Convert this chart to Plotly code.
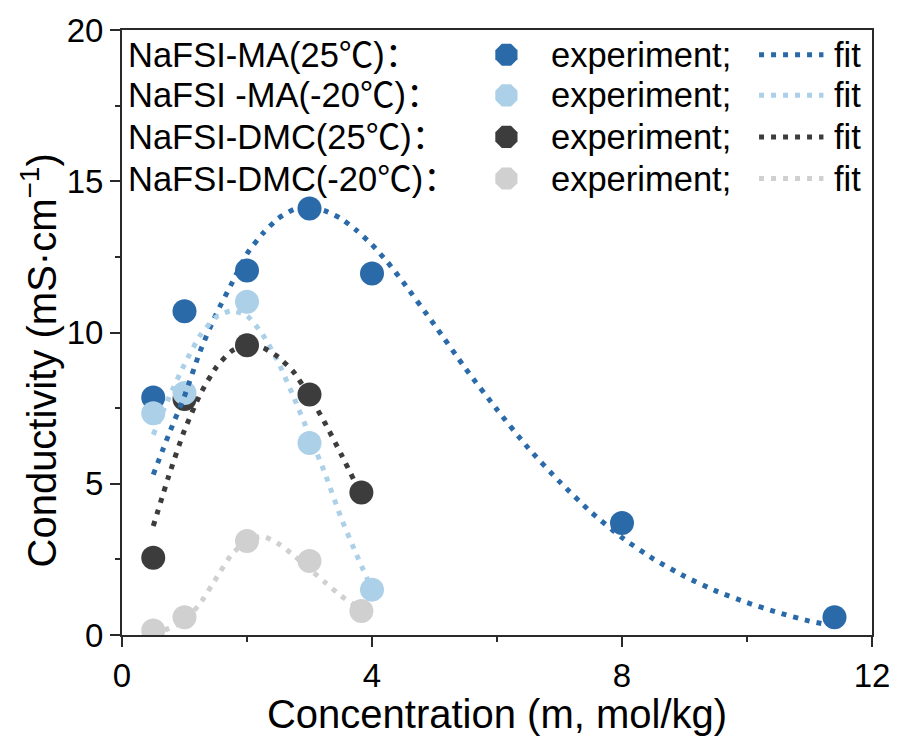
import plotly.graph_objects as go

# ---------------- data ----------------
labels = ["NaFSI-MA(25℃)：", "NaFSI -MA(-20℃)：", "NaFSI-DMC(25℃)：", "NaFSI-DMC(-20℃)："]
colors = ["#2b6aa9", "#abd0e8", "#3c3c3c", "#d0d0d0"]

ma25_x = [0.5, 1, 2, 3, 4, 8, 11.4]
ma25_y = [7.85, 10.7, 12.05, 14.1, 11.95, 3.7, 0.59]
ma20_x = [0.5, 1, 2, 3, 4]
ma20_y = [7.33, 8.0, 11.02, 6.35, 1.5]
dmc25_x = [0.5, 1, 2, 3, 3.83]
dmc25_y = [2.55, 7.8, 9.58, 7.95, 4.71]
dmc20_x = [0.5, 1, 2, 3, 3.83]
dmc20_y = [0.15, 0.59, 3.11, 2.45, 0.79]

ma25_fit_x = [0.5, 0.75, 1.0, 1.25, 1.5, 1.75, 2.0, 2.25, 2.5, 2.75, 3.0, 3.25, 3.5, 3.75,
              4.0, 4.25, 4.5, 5.0, 5.5, 6.0, 6.5, 7.0, 7.5, 8.0, 8.5, 9.0, 9.5, 10.0, 10.5, 11.0, 11.3]
ma25_fit_y = [5.3, 6.64, 7.9, 9.38, 10.58, 11.6, 12.6, 13.27, 13.77, 14.07, 14.14, 14.02, 13.77, 13.38,
              12.9, 12.32, 11.66, 10.25, 8.8, 7.45, 6.18, 5.07, 4.07, 3.22, 2.52, 1.94, 1.46, 1.07, 0.74, 0.46, 0.34]
ma20_fit_x = [0.5, 0.75, 1.0, 1.25, 1.5, 1.75, 2.0, 2.25, 2.5, 2.75, 3.0, 3.25, 3.5, 3.75, 4.0]
ma20_fit_y = [6.62, 7.85, 8.95, 9.9, 10.5, 10.72, 10.55, 9.93, 9.02, 7.85, 6.6, 5.33, 3.9, 2.67, 1.5]
dmc25_fit_x = [0.5, 0.75, 1.0, 1.25, 1.5, 1.75, 2.0, 2.25, 2.5, 2.75, 3.0, 3.25, 3.5, 3.8]
dmc25_fit_y = [3.6, 5.27, 6.77, 7.95, 8.83, 9.38, 9.6, 9.5, 9.19, 8.68, 7.9, 7.0, 6.0, 4.75]
dmc20_fit_x = [0.5, 0.75, 1.0, 1.25, 1.5, 1.75, 2.0, 2.25, 2.5, 2.75, 3.0, 3.25, 3.5, 3.8]
dmc20_fit_y = [0.05, 0.22, 0.47, 1.05, 1.85, 2.65, 3.12, 3.26, 3.02, 2.63, 2.18, 1.74, 1.3, 0.88]

x_ticks = [0, 4, 8, 12]
y_ticks = [0, 5, 10, 15, 20]
x_title = "Concentration (m, mol/kg)"
y_title = "Conductivity (mS·cm<sup>−1</sup>)"

# ---------------- layout constants ----------------
W, H = 902, 736
L, R, T, B = 122, 23, 24, 101
PW, PH = W - L - R, H - T - B
FONT = "Liberation Sans, Arial, Noto Sans CJK SC, sans-serif"
AX = "#2a2a2a"
DASH = "5px,7px"
LEG_SIZE = 34.5

def fx(px):
    return (px - L) / PW

def fy(py):
    return (H - B - py) / PH

fig = go.Figure()

exp_sets = [(ma25_x, ma25_y, 0), (ma20_x, ma20_y, 1), (dmc25_x, dmc25_y, 2), (dmc20_x, dmc20_y, 3)]
# marker drawing order: DMC(-20), DMC(25), MA(25), MA(-20)
for idx in [3, 2, 0, 1]:
    xs, ys, ci = exp_sets[idx]
    fig.add_trace(go.Scatter(x=xs, y=ys, mode="markers",
                             marker=dict(symbol="circle", size=24, color=colors[ci], line=dict(width=0)),
                             showlegend=False, hoverinfo="skip"))

fit_sets = [(ma25_fit_x, ma25_fit_y, 0), (ma20_fit_x, ma20_fit_y, 1),
            (dmc25_fit_x, dmc25_fit_y, 2), (dmc20_fit_x, dmc20_fit_y, 3)]
for xs, ys, ci in fit_sets:
    fig.add_trace(go.Scatter(x=xs, y=ys, mode="lines",
                             line=dict(color=colors[ci], width=5, dash=DASH, shape="spline", smoothing=0.6),
                             showlegend=False, hoverinfo="skip"))

# ---------------- custom legend (overlay axes in plot fractions) ----------------
rows_py = [49, 90, 132, 174]
for i, py in enumerate(rows_py):
    fig.add_trace(go.Scatter(x=[fx(510)], y=[fy(py)], xaxis="x2", yaxis="y2", mode="markers",
                             marker=dict(symbol="octagon", size=24, color=colors[i], line=dict(width=0)),
                             showlegend=False, hoverinfo="skip"))
    fig.add_trace(go.Scatter(x=[fx(765), fx(830)], y=[fy(py), fy(py)], xaxis="x2", yaxis="y2", mode="lines",
                             line=dict(color=colors[i], width=5, dash=DASH),
                             showlegend=False, hoverinfo="skip"))
    fig.add_annotation(x=fx(126), y=fy(py), xref="paper", yref="paper", text=labels[i], showarrow=False,
                       xanchor="left", yanchor="middle", font=dict(family=FONT, size=LEG_SIZE, color="black"))
    fig.add_annotation(x=fx(553), y=fy(py), xref="paper", yref="paper", text="experiment;", showarrow=False,
                       xanchor="left", yanchor="middle", font=dict(family=FONT, size=LEG_SIZE, color="black"))
    fig.add_annotation(x=fx(839), y=fy(py), xref="paper", yref="paper", text="fit", showarrow=False,
                       xanchor="left", yanchor="middle", font=dict(family=FONT, size=LEG_SIZE, color="black"))

# y-axis title as rotated annotation (positioned like the reference)
fig.add_annotation(x=fx(38), y=fy(358), xref="paper", yref="paper", text=y_title, showarrow=False,
                   textangle=-90, xanchor="center", yanchor="middle",
                   font=dict(family=FONT, size=40, color="black"))

fig.update_layout(
    width=W, height=H,
    margin=dict(l=L, r=R, t=T, b=B, pad=0),
    paper_bgcolor="white", plot_bgcolor="white",
    font=dict(family=FONT, size=32, color="black"),
    xaxis=dict(range=[0, 12], tickvals=x_ticks, ticks="outside", ticklen=10, tickwidth=2, tickcolor=AX,
               showline=True, linecolor=AX, linewidth=2, mirror=True, showgrid=False, zeroline=False,
               minor=dict(dtick=2, ticks="outside", ticklen=5, tickwidth=2, tickcolor=AX, showgrid=False),
               tickfont=dict(size=33), title=dict(text=x_title, font=dict(size=40), standoff=2)),
    yaxis=dict(range=[0, 20], tickvals=y_ticks, ticks="outside", ticklen=10, tickwidth=2, tickcolor=AX,
               showline=True, linecolor=AX, linewidth=2, mirror=True, showgrid=False, zeroline=False,
               minor=dict(dtick=2.5, ticks="outside", ticklen=5, tickwidth=2, tickcolor=AX, showgrid=False),
               tickfont=dict(size=33)),
    xaxis2=dict(overlaying="x", anchor="y2", range=[0, 1], visible=False, fixedrange=True),
    yaxis2=dict(overlaying="y", anchor="x2", range=[0, 1], visible=False, fixedrange=True),
)

fig.write_html("out.html")
